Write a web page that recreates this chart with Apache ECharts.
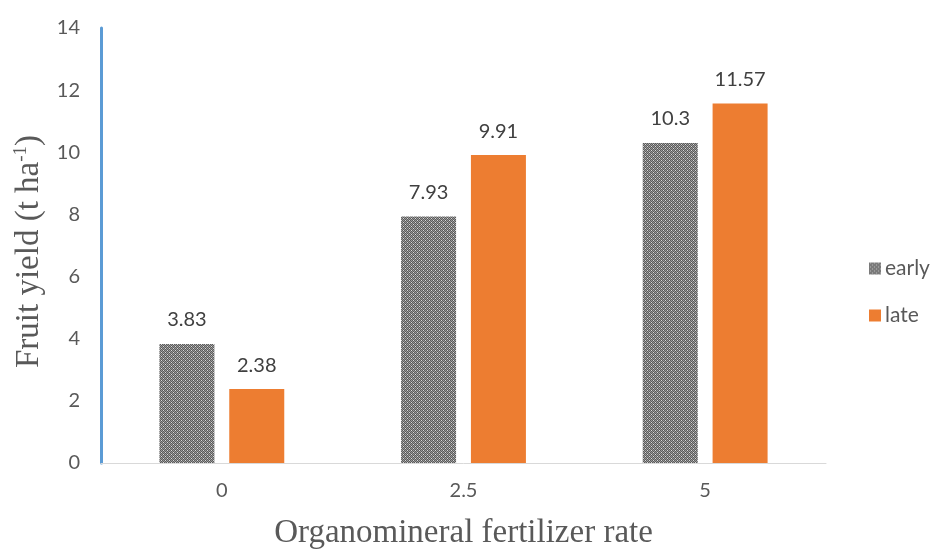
<!DOCTYPE html>
<html><head><meta charset="utf-8">
<script src="https://cdn.jsdelivr.net/npm/echarts@6/dist/echarts.min.js"></script>
<style>html,body{margin:0;padding:0;background:#fff}#c{width:936px;height:552px}</style>
</head><body><div id="c"></div>
<script>
const categories = ['0', '2.5', '5'];
const seriesNames = ['early', 'late'];
const earlyValues = [3.83, 7.93, 10.3];
const lateValues = [2.38, 9.91, 11.57];
const yTicks = [0, 2, 4, 6, 8, 10, 12, 14];

function makePattern() {
  const c = document.createElement('canvas');
  c.width = 4; c.height = 4;
  const g = c.getContext('2d');
  g.fillStyle = '#9a9a9a'; g.fillRect(0, 0, 4, 4);
  g.fillStyle = '#5a5a5a';
  g.fillRect(0, 0, 1, 1); g.fillRect(2, 0, 1, 1);
  g.fillRect(1, 1, 1, 1); g.fillRect(3, 1, 1, 1);
  g.fillRect(0, 2, 1, 1); g.fillRect(2, 2, 1, 1);
  g.fillRect(1, 3, 1, 1); g.fillRect(3, 3, 1, 1);
  g.fillStyle = '#d8d8d8';
  g.fillRect(1, 0, 1, 1); g.fillRect(3, 2, 1, 1);
  return c;
}
const pat = makePattern();
const font = 'Lato';
const chart = echarts.init(document.getElementById('c'));
const labelCfg = { show: true, position: 'top', distance: 14, color: '#404040', fontSize: 20, fontFamily: font };
chart.setOption({
  animation: false,
  grid: { left: 101, right: 110, top: 28, bottom: 89, outerBoundsMode: 'none', containLabel: false },
  legend: {
    orient: 'vertical', left: 864, top: 253, itemGap: 26,
    itemWidth: 12, itemHeight: 12, icon: 'rect',
    textStyle: { color: '#595959', fontSize: 21, fontFamily: font, padding: [0, 0, 0, -1] },
    data: seriesNames
  },
  xAxis: {
    type: 'category', data: categories,
    name: 'Organomineral fertilizer rate', nameLocation: 'middle', nameGap: 54,
    nameTextStyle: { fontFamily: 'Liberation Serif', fontSize: 33, color: '#595959' },
    axisLine: { lineStyle: { color: '#d9d9d9', width: 1 } },
    axisTick: { show: false },
    axisLabel: { color: '#595959', fontSize: 20, fontFamily: font, margin: 18 }
  },
  yAxis: {
    type: 'value', min: yTicks[0], max: yTicks[yTicks.length - 1], interval: 2,
    name: '{a|Fruit yield (t ha}{s|-1}{a|)}', nameLocation: 'middle', nameGap: 44,
    nameTextStyle: {
      padding: [0, 12, 0, 0],
      rich: {
        a: { fontFamily: 'Liberation Serif', fontSize: 33, color: '#595959' },
        s: { fontFamily: 'Liberation Serif', fontSize: 19, color: '#595959', padding: [0, 0, 16, 0] }
      }
    },
    axisLine: { show: true, lineStyle: { color: '#5B9BD5', width: 3 } },
    axisTick: { show: false },
    splitLine: { show: false },
    axisLabel: { color: '#595959', fontSize: 20, fontFamily: font, margin: 21 }
  },
  series: [
    { name: seriesNames[0], type: 'bar', data: earlyValues, barWidth: 55, barGap: '27%',
      itemStyle: { color: { image: pat, repeat: 'repeat' } }, label: labelCfg },
    { name: seriesNames[1], type: 'bar', data: lateValues, barWidth: 55,
      itemStyle: { color: '#ED7D31' }, label: labelCfg }
  ]
});
</script></body></html>
